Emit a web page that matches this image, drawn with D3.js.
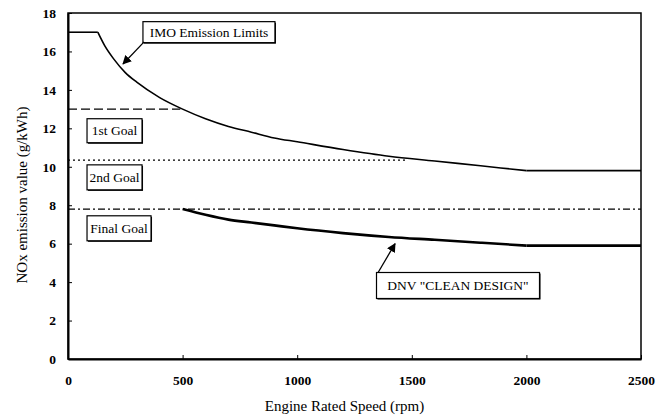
<html><head>
<script src="https://d3js.org/d3.v7.min.js"></script>
<style>
  body { margin: 0; background: #fff; }
</style>
</head>
<body>
<script>
// IMO limit curve
const imoRpm = [0, 130, 160, 200, 250, 300, 400, 500, 600, 700, 800, 900, 1000, 1200, 1400, 1600, 1800, 2000, 2500];
const imoNox = [17.0, 17.0, 16.3, 15.6, 14.9, 14.4, 13.6, 13.0, 12.5, 12.1, 11.8, 11.5, 11.3, 10.9, 10.55, 10.3, 10.05, 9.8, 9.8];

// DNV clean design curve
const dnvRpm = [500, 600, 700, 800, 900, 1000, 1200, 1400, 1600, 1800, 2000, 2500];
const dnvNox = [7.8, 7.5, 7.25, 7.1, 6.95, 6.8, 6.55, 6.35, 6.2, 6.05, 5.9, 5.9];

// goal lines
const goalNames = ["1st Goal", "2nd Goal", "Final Goal"];
const goalValues = [13.0, 10.35, 7.8];
const goalEndRpm = [490, 1480, 2500];

const xTicks = [0, 500, 1000, 1500, 2000, 2500];
const yTicks = [0, 2, 4, 6, 8, 10, 12, 14, 16, 18];

const serif = '"Liberation Serif", "Times New Roman", Times, serif';
const width = 666, height = 418;
const margin = {top: 13, right: 25, bottom: 59, left: 68};

const svg = d3.select("body").append("svg")
    .attr("width", width)
    .attr("height", height);

const x = d3.scaleLinear().domain([0, 2500]).range([margin.left, width - margin.right]);
const y = d3.scaleLinear().domain([0, 18]).range([height - margin.bottom, margin.top]);

// frame
svg.append("rect")
    .attr("x", x(0)).attr("y", y(18))
    .attr("width", x(2500) - x(0)).attr("height", y(0) - y(18))
    .attr("fill", "none").attr("stroke", "#000").attr("stroke-width", 1.5);

// axes, ticks pointing inwards
svg.append("g")
    .attr("transform", "translate(0," + y(0) + ")")
    .call(d3.axisBottom(x).tickValues(xTicks).tickFormat(d3.format("d"))
          .tickSizeInner(-4).tickSizeOuter(0).tickPadding(16))
    .call(g => g.select(".domain").attr("stroke-width", 2));

svg.append("g")
    .attr("transform", "translate(" + x(0) + ",0)")
    .call(d3.axisLeft(y).tickValues(yTicks).tickSizeInner(-4).tickSizeOuter(0).tickPadding(12))
    .call(g => g.select(".domain").attr("stroke-width", 2));

svg.selectAll(".tick text")
    .attr("fill", "#000")
    .style("font-family", serif)
    .style("font-weight", "bold")
    .style("font-size", "13.5px");

// axis titles
svg.append("text")
    .attr("x", (x(0) + x(2500)) / 2 - 10).attr("y", 411)
    .attr("text-anchor", "middle")
    .style("font-family", serif).style("font-size", "15px")
    .text("Engine Rated Speed (rpm)");

svg.append("text")
    .attr("transform", "translate(27," + 195 + ") rotate(-90)")
    .attr("text-anchor", "middle")
    .style("font-family", serif).style("font-size", "15px")
    .text("NOx emission value (g/kWh)");

// goal lines
const goalDash = ["9,4", "2,3", "7,3,2,3"];
goalValues.forEach((v, i) => {
  svg.append("line")
      .attr("x1", x(0)).attr("x2", x(goalEndRpm[i]))
      .attr("y1", y(v)).attr("y2", y(v))
      .attr("stroke", "#000").attr("stroke-width", 1.2)
      .attr("stroke-dasharray", goalDash[i]);
});

const pts = (rpm, nox) => rpm.map((r, i) => [r, nox[i]]);
const straight = d3.line().x(d => x(d[0])).y(d => y(d[1]));
const smooth = d3.line().x(d => x(d[0])).y(d => y(d[1])).curve(d3.curveMonotoneX);

// IMO: flat, curved, flat
const imo = pts(imoRpm, imoNox);
const last = imo.length - 1;
[[imo.slice(0, 2), straight], [imo.slice(1, last), smooth], [imo.slice(last - 1), straight]].forEach(([seg, gen]) => {
  svg.append("path")
      .datum(seg)
      .attr("d", gen)
      .attr("fill", "none").attr("stroke", "#000").attr("stroke-width", 1.6)
      .attr("stroke-linejoin", "round");
});

const dnv = pts(dnvRpm, dnvNox);
[[dnv.slice(0, dnv.length - 1), smooth], [dnv.slice(dnv.length - 2), straight]].forEach(([seg, gen]) => {
  svg.append("path")
      .datum(seg)
      .attr("d", gen)
      .attr("fill", "none").attr("stroke", "#000").attr("stroke-width", 2.6);
});

// arrowhead
svg.append("defs").append("marker")
    .attr("id", "arrow")
    .attr("viewBox", "0 0 10 10")
    .attr("refX", 9).attr("refY", 5)
    .attr("markerWidth", 9).attr("markerHeight", 9)
    .attr("markerUnits", "userSpaceOnUse")
    .attr("orient", "auto")
    .append("path").attr("d", "M0,0 L10,5 L0,10 z").attr("fill", "#000");

// boxed labels with a thin drop shadow
function callout(text, px, py, w, h) {
  const g = svg.append("g");
  g.append("rect").attr("x", px + 1).attr("y", py + 1).attr("width", w).attr("height", h).attr("fill", "#000");
  g.append("rect").attr("x", px).attr("y", py).attr("width", w).attr("height", h)
      .attr("fill", "#fff").attr("stroke", "#000").attr("stroke-width", 1.2);
  g.append("text")
      .attr("x", px + w / 2).attr("y", py + h / 2 + 4.5)
      .attr("text-anchor", "middle")
      .style("font-family", serif).style("font-size", "13.5px")
      .text(text);
}

callout("IMO Emission Limits", x(327), y(17.55), 132, 21);
callout(goalNames[0], x(83), y(12.5), 55, 24);
callout(goalNames[1], x(83), y(10.1), 55, 25);
callout(goalNames[2], x(83), y(7.45), 64, 25);
callout('DNV "CLEAN DESIGN"', x(1346), y(4.5), 163, 26);

// arrows to the curves
svg.append("line")
    .attr("x1", x(332)).attr("y1", y(16.5))
    .attr("x2", x(240)).attr("y2", y(15.35))
    .attr("stroke", "#000").attr("stroke-width", 1.3)
    .attr("marker-end", "url(#arrow)");

svg.append("line")
    .attr("x1", x(1353)).attr("y1", y(4.5))
    .attr("x2", x(1427)).attr("y2", y(6.0))
    .attr("stroke", "#000").attr("stroke-width", 1.3)
    .attr("marker-end", "url(#arrow)");
</script>
</body></html>
